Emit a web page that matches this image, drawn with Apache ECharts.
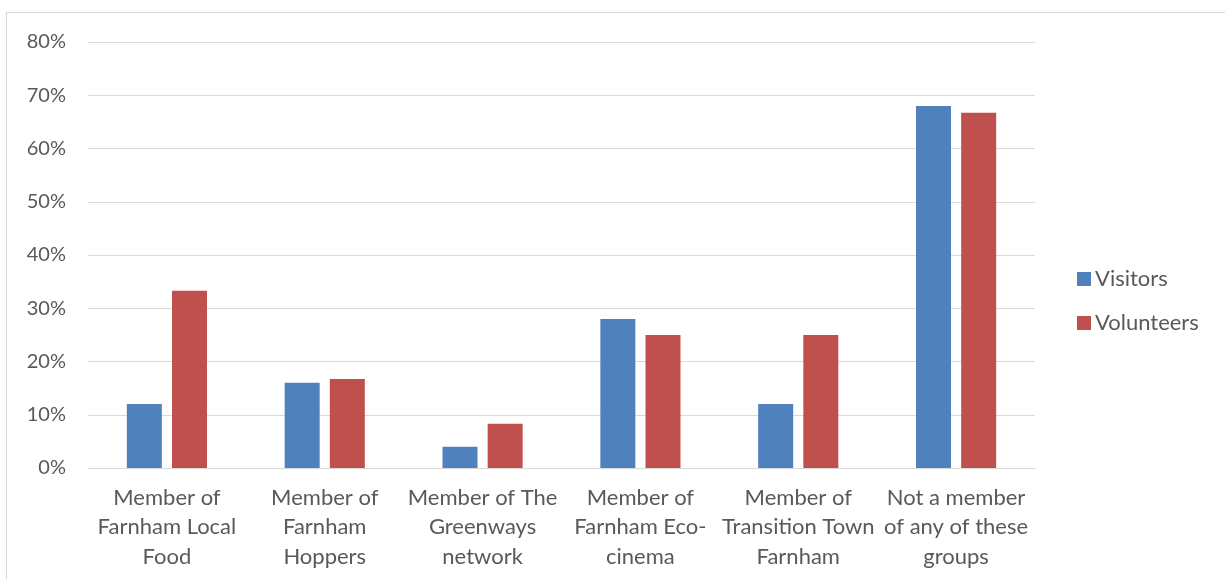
<!DOCTYPE html>
<html><head><meta charset="utf-8">
<script src="https://cdn.jsdelivr.net/npm/echarts@6/dist/echarts.min.js"></script>
<style>
html,body{margin:0;padding:0;background:#fff;width:1225px;height:579px;overflow:hidden;}
#frame{position:absolute;left:6px;top:12px;width:1240px;height:600px;border:1px solid #d9d9d9;box-sizing:border-box;}
#c{position:absolute;left:0;top:0;width:1225px;height:579px;}
</style></head>
<body><div id="frame"></div><div id="c"></div>
<script>
var categories = ["Member of\nFarnham Local\nFood","Member of\nFarnham\nHoppers","Member of The\nGreenways\nnetwork","Member of\nFarnham Eco-\ncinema","Member of\nTransition Town\nFarnham","Not a member\nof any of these\ngroups"];
var visitors = [12, 16, 4, 28, 12, 68];
var volunteers = [33.3, 16.7, 8.3, 25, 25, 66.7];
var seriesNames = ["Visitors","Volunteers"];
var FONT = "Lato";
var chart = echarts.init(document.getElementById('c'));
chart.setOption({
  animation:false,
  grid:{left:88, right:190, top:42, bottom:111, containLabel:false},
  legend:{orient:'vertical', left:1072, top:263, itemWidth:14, itemHeight:14, itemGap:22,
    icon:'rect', textStyle:{fontFamily:FONT, fontSize:22, color:'#595959', padding:[0,0,0,-1]},
    data:seriesNames},
  xAxis:{type:'category', data:categories,
    axisLine:{lineStyle:{color:'#d9d9d9', width:1}}, axisTick:{show:false},
    axisLabel:{fontFamily:FONT, fontSize:22, color:'#595959', lineHeight:29.5, margin:15, interval:0}},
  yAxis:{type:'value', min:0, max:80, interval:10,
    axisLabel:{formatter:'{value}%', fontFamily:FONT, fontSize:20, color:'#595959', margin:22},
    axisLine:{show:false}, axisTick:{show:false},
    splitLine:{lineStyle:{color:'#d9d9d9', width:1}}},
  series:[
    {name:seriesNames[0], type:'bar', data:visitors, barWidth:35, barGap:'29%', itemStyle:{color:'#4f81bd'}},
    {name:seriesNames[1], type:'bar', data:volunteers, barWidth:35, itemStyle:{color:'#c0504d'}}
  ]
});
</script></body></html>
